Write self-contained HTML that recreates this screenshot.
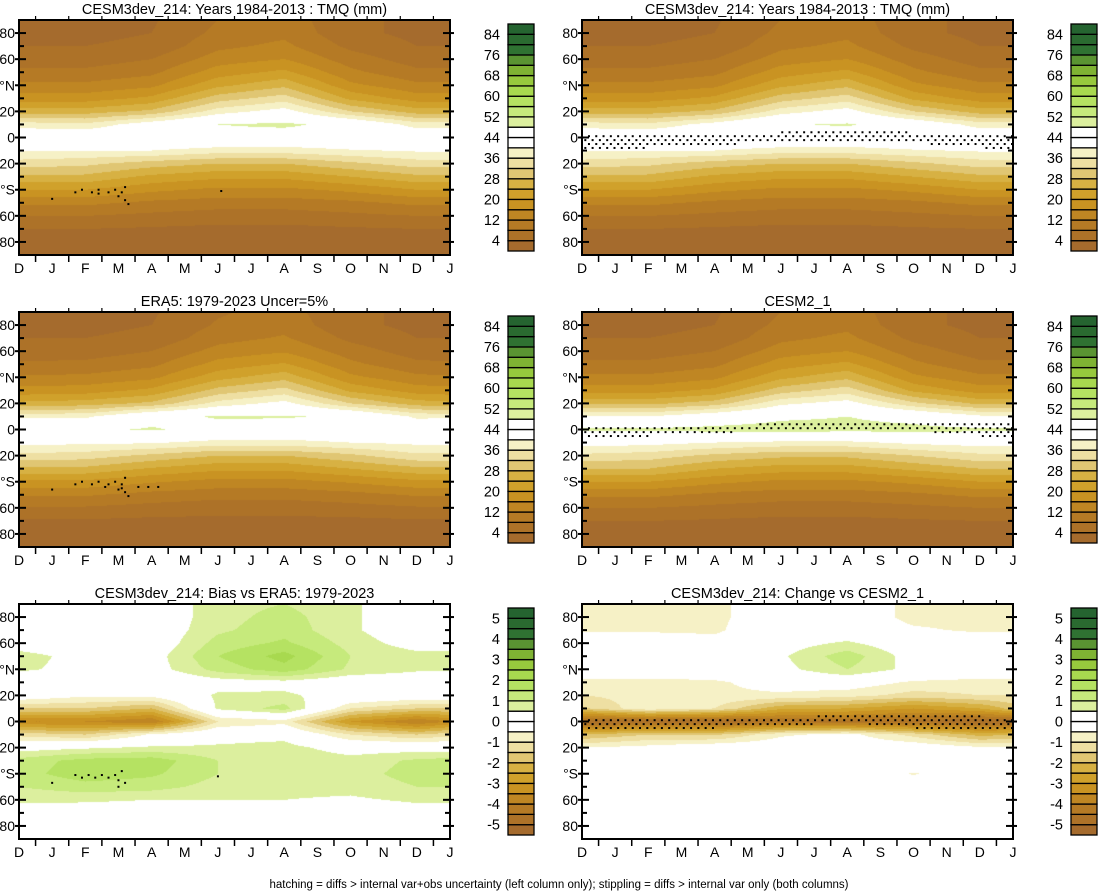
<!DOCTYPE html>
<html><head><meta charset="utf-8">
<style>
html,body{margin:0;padding:0;background:#fff;}
body{width:1098px;height:891px;position:relative;overflow:hidden;font-family:"Liberation Sans",Arial,sans-serif;}
canvas{position:absolute;}
svg{position:absolute;left:0;top:0;}
</style></head>
<body>
<div id="plots"></div>
<svg id="ov" width="1098" height="891"></svg>
<script>
// ---- data ----
const months = ["D","J","F","M","A","M","J","J","A","S","O","N","D","J"];
const colTimes = [0,2,4,6,8,10,12,13];           // month index of data columns
const lats = [90,80,70,60,50,40,30,20,10,0,-10,-20,-30,-40,-50,-60,-70,-80,-90];
const tmqTicks = ["4","12","20","28","36","44","52","60","68","76","84"];
const biasTicks = ["-5","-4","-3","-2","-1","0","1","2","3","4","5"];
const palette = ["#a56b2d","#ad7228","#b57a25","#bf8623","#c99322","#d0a12b","#d7b143","#e0c673","#eedfa2","#f6f1c6","#ffffff","#ffffff","#dcef9e","#c6ea7c","#b5e262","#a8d94f","#97c93d","#7fb333","#5a9432","#2f7232","#2a6a30","#256430"];
const cesm3Tmq = [
[3,3,3.5,8,10,5,3,3],[3,3,4,9,11,5,3,3],[4,4,5,11,13,7,4,4],[6,6,8,14,16,10,6,6],
[9,9,11,18,21,13,9,9],[13,13,15,23,27,17,13,13],[18,18,21,30,34,23,18,18],[26,26,29,38,42,32,26,26],
[38,37,43,48,49,46,38,38],[45,45,46,46,45,46,45,45],[40.5,40,40,38,38,39.5,40.5,40.5],[34,33,30,28,28,31,34,34],
[27,27,23,21,21,24,27,27],[20,20,17,15,15,17,20,20],[13,13,11,10,10,11,13,13],[8,8,7,6,6,7,8,8],
[4,4,3.5,3,3,3.5,4,4],[2,2,2,1.5,1.5,2,2,2],[1.5,1.5,1.5,1,1,1.5,1.5,1.5]];
const cesm3TmqB = [
[3,3,3.5,8,10,5,3,3],[3,3,4,9,11,5,3,3],[4,4,5,11,13,7,4,4],[6,6,8,14,16,10,6,6],
[9,9,11,18,21,13,9,9],[13,13,15,23,27,17,13,13],[18,18,21,30,34,23,18,18],[26,26,29,38,42,32,26,26],
[38,37,42,47.5,48.5,45,38,38],[45,45,46,46,45,46,45,45],[40.5,40,40,38,38,39.5,40.5,40.5],[34,33,30,28,28,31,34,34],
[27,27,23,21,21,24,27,27],[20,20,17,15,15,17,20,20],[13,13,11,10,10,11,13,13],[8,8,7,6,6,7,8,8],
[4,4,3.5,3,3,3.5,4,4],[2,2,2,1.5,1.5,2,2,2],[1.5,1.5,1.5,1,1,1.5,1.5,1.5]];
const era5Tmq = [
[3,3,3.5,7.5,9.5,5,3,3],[3,3,4,8.5,10.5,5,3,3],[4,4,5,10.5,12.5,7,4,4],[6,6,8,13.5,15.5,10,6,6],
[8.5,9,11,17.5,20.5,13,9,8.5],[12.5,13,15,22.5,26.5,17,13,12.5],[17.5,18,21,29.5,33.5,23,18,17.5],[25,26,29,37.5,41.5,32,26,25],
[39,39,46,48.5,48.5,47,39,39],[46,47,48.5,46,45,46,45,46],[41,41,40.5,38.5,38.5,40,41,41],[35,34,31,28,28,31,35,35],
[27,27,23.5,21,21,24,27,27],[19,19,16.5,14.5,14.5,16.5,19,19],[12.5,12.5,10.5,9.5,9.5,10.5,12.5,12.5],[7.5,7.5,6.5,5.5,5.5,6.5,7.5,7.5],
[3.5,3.5,3,3,3,3,3.5,3.5],[2,2,2,1.5,1.5,2,2,2],[1.5,1.5,1.5,1,1,1.5,1.5,1.5]];
const cesm2Tmq = [
[3,3,3.5,8,10,5,3,3],[3,3,4,9,11,5,3,3],[4,4,5,11,13,7,4,4],[6,6,8,14,16,10,6,6],
[9,9,11,18,21,13,9,9],[13,13,15,23,27,17,13,13],[18,18,21,30,34,23,18,18],[27,27,30,39,42,33,27,27],
[40,40,44,47,48,46,41,40],[49,49,49.5,50,49.5,49.5,49,49],[42,41.5,40,39,39,41,42,42],[35,34,31,29,29,32,35,35],
[28,28,24,22,22,25,28,28],[20,20,17,15,15,17,20,20],[13,13,11,10,10,11,13,13],[8,8,7,6,6,7,8,8],
[4,4,3.5,3,3,3.5,4,4],[2,2,2,1.5,1.5,2,2,2],[1.5,1.5,1.5,1,1,1.5,1.5,1.5]];
const biasVals = [
[0,0,0,0.8,1.0,0.6,0,0],[0,0,0,0.8,1.2,0.6,0,0],[0,0,0,0.9,1.3,0.6,0,0],[0.2,0,0,1.2,1.6,0.8,0.2,0.2],
[0.7,0.3,0.2,1.5,2.2,1.0,0.7,0.7],[0.6,0.3,0.2,1.2,1.8,0.9,0.6,0.6],[0,-0.3,-0.2,0.2,0.3,0,0,0],[0,-0.4,-0.3,0.6,0.6,0.2,0,0],
[-1.5,-1.5,-2,0.6,1.2,-1,-1.5,-1.5],[-3.5,-3.5,-4,-1,-0.7,-3,-4,-3.5],[-1.2,-1.5,-0.4,0.2,0.3,-1,-1.5,-1.2],[0.2,0.4,0.6,0.6,0.7,0.2,0.2,0.2],
[1.2,1.7,1.8,1.0,0.9,0.7,1.1,1.2],[1.3,1.8,1.6,1.0,0.9,0.8,1.2,1.3],[1.0,1.3,1.2,0.8,0.7,0.7,1.0,1.0],[0.6,0.6,0.5,0.5,0.5,0.4,0.6,0.6],
[0.2,0.1,0,0,0,0,0.2,0.2],[0,0,0,0,0,0,0,0],[0,0,0,0,0,0,0,0]];
const changeVals = [
[-0.7,-0.6,-0.6,-0.2,0,-0.7,-0.7,-0.7],[-0.7,-0.6,-0.6,-0.2,0,-0.7,-0.7,-0.7],[-0.6,-0.6,-0.6,0,0,-0.4,-0.6,-0.6],[0,0,-0.3,0.2,0.6,0,0,0],
[0,0,0,0.4,1.3,0.2,0,0],[0,0,0,0.3,1.0,0.3,0,0],[-0.7,-0.7,-0.6,-0.2,-0.1,-0.6,-0.7,-0.7],[-1,-0.8,-0.6,-0.6,-0.8,-1.2,-1,-1],
[-1.6,-0.6,-1,-2.4,-2.5,-3,-2.5,-1.8],[-5,-5,-5,-4.5,-4.6,-4.6,-5,-5],[-2,-1.5,-1.6,-0.6,-0.3,-1.2,-2.2,-2],[-0.5,-0.3,0,0,0,0,-0.4,-0.5],
[0,0,0,0,0,0,0,0],[0,0,0,0,0,-0.55,0,0],[0,0,0,0,0,0,0,0],[0,0,0,0,0,0,0,0],
[0,0,0,0,0,0,0,0],[0,0,0,0,0,0,0,0],[0,0,0,0,0,0,0,0]];
// stipple band edges (lat top, lat bottom) at data columns
const band2Top = [2,2,1,4,5,4,2,2];
const band2Bot = [-8,-8,-6,-3,-2,-4,-8,-8];
const band4Top = [4,2,2,5,6,5,4,4];
const band4Bot = [-5,-5,-3,0,1,-1,-5,-5];
const band6Top = [3,3,3,3,5,5,4,3];
const band6Bot = [-8,-7,-5,-3,-1,-5,-7,-8];
const stipple1 = [[1.0,-47],[1.7,-42],[1.9,-40],[2.2,-42],[2.4,-40],[2.7,-42],[2.9,-40],[3.1,-42],[3.2,-38],[3.0,-45],[3.2,-48],[3.3,-51],[2.4,-43],[6.1,-41]];
const stipple3 = [[1.0,-46],[1.7,-42],[1.9,-40],[2.2,-42],[2.4,-40],[2.7,-42],[2.9,-40],[3.1,-42],[3.2,-37],[3.1,-45],[3.2,-48],[3.3,-51],[3.6,-44],[3.9,-44],[4.2,-44],[2.6,-44],[3.0,-46]];
const stipple5 = [[1.0,-47],[1.7,-41],[1.9,-43],[2.1,-41],[2.3,-43],[2.5,-41],[2.7,-43],[2.9,-41],[3.1,-38],[3.0,-45],[3.2,-47],[3.0,-50],[6.0,-42]];

const LX=[19,582], TY=[20,312,604], W=431, H=235;
const panels=[
 {name:"panel-cesm3-climatology",title:"CESM3dev_214: Years 1984-2013 : TMQ (mm)",r:0,c:0,v:cesm3Tmq,kind:"tmq",pts:stipple1},
 {name:"panel-cesm3-climatology-right",title:"CESM3dev_214: Years 1984-2013 : TMQ (mm)",r:0,c:1,v:cesm3TmqB,kind:"tmq",bt:band2Top,bb:band2Bot},
 {name:"panel-era5",title:"ERA5: 1979-2023 Uncer=5%",r:1,c:0,v:era5Tmq,kind:"tmq",pts:stipple3},
 {name:"panel-cesm2",title:"CESM2_1",r:1,c:1,v:cesm2Tmq,kind:"tmq",bt:band4Top,bb:band4Bot},
 {name:"panel-bias",title:"CESM3dev_214: Bias vs ERA5: 1979-2023",r:2,c:0,v:biasVals,kind:"bias",pts:stipple5},
 {name:"panel-change",title:"CESM3dev_214: Change vs CESM2_1",r:2,c:1,v:changeVals,kind:"bias",bt:band6Top,bb:band6Bot}
];
function interpCol(arr,t){
  let i=0; while(i<colTimes.length-2 && t>colTimes[i+1]) i++;
  const f=(t-colTimes[i])/(colTimes[i+1]-colTimes[i]);
  return arr[i]*(1-f)+arr[i+1]*f;
}
function field(v,t,lat){
  let j=Math.floor((90-lat)/10); if(j>17)j=17; if(j<0)j=0;
  const g=((90-lat)-j*10)/10;
  const a=interpCol(v[j],t), b=interpCol(v[j+1],t);
  return a*(1-g)+b*g;
}
function boxIndex(val,kind){
  let i = kind==="tmq"? Math.floor(val/4) : Math.floor((val+5.5)/0.5);
  return Math.max(0,Math.min(21,i));
}
function hex(c){return [parseInt(c.slice(1,3),16),parseInt(c.slice(3,5),16),parseInt(c.slice(5,7),16)];}
const pal=palette.map(hex);
const ov=document.getElementById('ov'), NS="http://www.w3.org/2000/svg";
function mk(tag,attrs,parent){const e=document.createElementNS(NS,tag);for(const k in attrs)e.setAttribute(k,attrs[k]);(parent||ov).appendChild(e);return e;}
const xs=(x0,t)=>x0+t*W/13, ys=(y0,lat)=>y0+(90-lat)*H/180;

panels.forEach(p=>{
  const x0=LX[p.c], y0=TY[p.r];
  const cv=document.createElement('canvas'); cv.width=W; cv.height=H;
  cv.style.left=x0+'px'; cv.style.top=y0+'px';
  
  
  document.getElementById('plots').appendChild(cv);
  const ctx=cv.getContext('2d'), img=ctx.createImageData(W,H);
  for(let y=0;y<H;y++){const lat=90-(y+0.5)*180/H;
    for(let x=0;x<W;x++){const t=(x+0.5)*13/W;
      const c=pal[boxIndex(field(p.v,t,lat),p.kind)], k=(y*W+x)*4;
      img.data[k]=c[0];img.data[k+1]=c[1];img.data[k+2]=c[2];img.data[k+3]=255;}}
  ctx.putImageData(img,0,0);
  const g=mk('g',{});
  
  
  if(p.pts){p.pts.forEach(d=>{const s=mk('rect',{x:xs(x0,d[0])-1,y:ys(y0,d[1])-1,width:2,height:2,fill:'#000'},g);
    });}
  if(p.bt){let row=0;
    for(let lat=10;lat>=-12;lat-=3){row++;
      for(let t=(row%2?0.1:0.21);t<13;t+=0.22){const top=interpCol(p.bt,t), bot=interpCol(p.bb,t);
        if(lat<=top && lat>=bot){const s=mk('rect',{x:xs(x0,t)-1,y:ys(y0,lat)-1,width:2,height:2,fill:'#000'},g);
          }}}}
  const fr=mk('rect',{x:x0,y:y0,width:W,height:H,fill:'none',stroke:'#000','stroke-width':2},g);
  
  const tt=mk('text',{x:x0+W/2,y:y0-6,'text-anchor':'middle','font-size':14.5},g); tt.textContent=p.title;
  
  const ylab={80:"80",60:"60",40:"°N",20:"20",0:"0","-20":"20","-40":"°S","-60":"60","-80":"80"};
  for(let lat=-80;lat<=80;lat+=10){const y=ys(y0,lat), maj=lat%20===0;
    mk('line',{x1:x0-(maj?4:0),x2:x0+(maj?7:5),y1:y,y2:y,stroke:'#000','stroke-width':2},g);
    mk('line',{x1:x0+W-(maj?7:5),x2:x0+W+(maj?4:0),y1:y,y2:y,stroke:'#000','stroke-width':2},g);
    if(maj){const l=mk('text',{x:x0-4,y:y+5,'text-anchor':'end','font-size':14},g);l.textContent=ylab[lat];
      }}
  months.forEach((m,i)=>{const x=xs(x0,i);
    const l=mk('text',{x:x,y:y0+H+18,'text-anchor':'middle','font-size':14},g);l.textContent=m;
    
    if(i<13){const xm=xs(x0,i+0.5);
      mk('line',{x1:xm,x2:xm,y1:y0+H,y2:y0+H+7,stroke:'#000','stroke-width':1.5},g);
      mk('line',{x1:xm,x2:xm,y1:y0,y2:y0-4,stroke:'#000','stroke-width':1.2},g);}});
  const bx=x0+489, by=y0+4, bh=227/22;
  const cb=mk('g',{},g); 
  palette.forEach((c,i)=>{mk('rect',{x:bx,y:by+(21-i)*bh,width:26,height:bh,fill:c,stroke:'#000','stroke-width':1.3},cb);});
  const ticks=p.kind==="tmq"?tmqTicks:biasTicks;
  ticks.forEach((s,k)=>{const b=2*k+1, y=by+(22-b)*bh;
    const l=mk('text',{x:bx-8,y:y+5,'text-anchor':'end','font-size':14.5},cb);l.textContent=s;
    });
});
const ft=mk('text',{x:559,y:888,'text-anchor':'middle','font-size':11.5});
ft.textContent="hatching = diffs > internal var+obs uncertainty (left column only); stippling = diffs > internal var only (both columns)";

</script>
</body></html>
